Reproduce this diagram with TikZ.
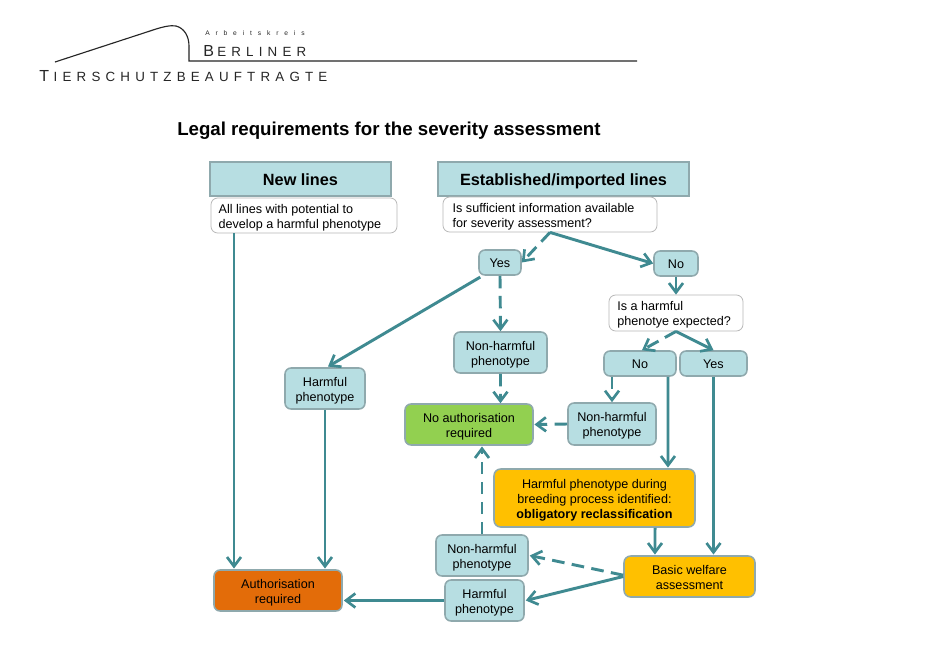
\documentclass[tikz,border=0pt]{standalone}
\usepackage{fontspec}
\setmainfont{Liberation Sans}
\newfontfamily\arbfont[LetterSpace=88]{Liberation Sans}
\newfontfamily\logofont[LetterSpace=39]{Liberation Sans}
\usetikzlibrary{arrows.meta}
\definecolor{linkc}{HTML}{3F8A91}
\definecolor{boxf}{HTML}{B7DEE2}
\definecolor{boxd}{HTML}{8FA9AD}
\definecolor{greenf}{HTML}{92D050}
\definecolor{amberf}{HTML}{FFC000}
\definecolor{darkor}{HTML}{E36C09}
\tikzset{
  base/.style={draw=boxd,line width=1.15pt,inner sep=0pt,align=center,font=\fontsize{9.45pt}{11.35pt}\selectfont},
  head/.style={base,fill=boxf,font=\fontsize{12.2pt}{14pt}\selectfont\bfseries,text height=11pt,text depth=2pt},
  blue/.style={base,fill=boxf,rounded corners=4.5pt},
  gbox/.style={base,fill=greenf,rounded corners=4.5pt},
  abox/.style={base,fill=amberf,rounded corners=5pt},
  obox/.style={base,fill=darkor,rounded corners=4.5pt},
  qbox/.style={base,draw=black!28,line width=.6pt,fill=white,rounded corners=5pt},
  link/.style={draw=linkc,line width=2.2pt,-{Straight Barb[length=7pt,width=10.5pt,line width=2pt]}},
  dlink/.style={link,dash pattern=on 9.5pt off 5.5pt},
  logoline/.style={line width=.85pt,draw=black!85},
  logotext/.style={anchor=base west,inner sep=0pt,text=black!85},
}
% name, style, x1, y1, x2, y2, text
\newcommand\pxnode[7]{%
  \pgfmathsetmacro\cxv{(#3+#5)/2}\pgfmathsetmacro\cyv{-(#4+#6)/2}%
  \pgfmathsetmacro\wv{(#5-#3)*0.75}\pgfmathsetmacro\hv{(#6-#4)*0.75}%
  \node[#2,minimum width=\wv pt,minimum height=\hv pt] (#1) at (\cxv,\cyv) {#7};}
\newcommand\ct[1]{\raisebox{-1.6pt}[\height][\depth]{\begin{tabular}{@{}c@{}}#1\end{tabular}}}
\newcommand\qtext[2]{\makebox[#1pt][l]{\raisebox{-1.6pt}[\height][\depth]{\begin{tabular}{@{}l@{}}#2\end{tabular}}}}
\begin{document}
\begin{tikzpicture}[x=0.75pt,y=0.75pt]
\useasboundingbox[fill=white] (0,0) rectangle (933,-647);
% logo
\draw[logoline] (55,-62) -- (150,-31) .. controls (163,-26.5) and (171,-25) .. (176,-26) .. controls (184,-28) and (189,-36) .. (189,-46) -- (189,-61) -- (637,-61);
\node[logotext,font=\arbfont\fontsize{5pt}{6pt}\selectfont] (arb) at (205,-35) {Arbeitskreis};
\node[logotext,font=\logofont\fontsize{10pt}{12pt}\selectfont] (ber) at (203,-56) {{\fontsize{12pt}{12pt}\selectfont B}\kern2.5ptERLINER};
\node[logotext,font=\logofont\fontsize{10pt}{12pt}\selectfont] (tie) at (39,-81) {{\fontsize{12pt}{12pt}\selectfont T}\kern3.5ptIERSCHUTZBEAUFTRAGTE};
\node[anchor=base west,inner sep=0pt,font=\fontsize{14pt}{16pt}\selectfont\bfseries] (title) at (177,-135) {Legal requirements for the severity assessment};
% nodes
\pxnode{newl}{head}{210}{162}{391}{196}{New lines}
\pxnode{est}{head}{438}{162}{689}{196}{Established/imported lines}
\pxnode{q1}{qbox}{211}{198}{397}{233}{\qtext{128}{All lines with potential to\\develop a harmful phenotype}}
\pxnode{q2}{qbox}{443}{197}{657}{232}{\qtext{146}{Is sufficient information available\\for severity assessment?}}
\pxnode{yesa}{blue}{479}{250}{521}{275}{\ct{Yes}}
\pxnode{noa}{blue}{654}{251}{698}{276}{\ct{No}}
\pxnode{q3}{qbox}{609}{295}{743}{331}{\qtext{88}{Is a harmful\\phenotye expected?}}
\pxnode{nh1}{blue}{454}{332}{547}{373}{\ct{Non-harmful\\phenotype}}
\pxnode{nob}{blue}{604}{351}{676}{376}{\ct{No}}
\pxnode{yesb}{blue}{680}{351}{747}{376}{\ct{Yes}}
\pxnode{h1}{blue}{285}{368}{365}{409}{\ct{Harmful\\phenotype}}
\pxnode{noauth}{gbox}{405}{404}{533}{445}{\ct{No authorisation\\required}}
\pxnode{nh2}{blue}{568}{403}{656}{445}{\ct{Non-harmful\\phenotype}}
\pxnode{reclass}{abox}{494}{469}{695}{527}{\ct{Harmful phenotype during\\breeding process identified:\\\textbf{obligatory reclassification}}}
\pxnode{basic}{abox}{624}{556}{755}{597}{\ct{Basic welfare\\assessment}}
\pxnode{nh3}{blue}{436}{535}{528}{576}{\ct{Non-harmful\\phenotype}}
\pxnode{h3}{blue}{445}{580}{524}{621}{\ct{Harmful\\phenotype}}
\pxnode{auth}{obox}{214}{570}{342}{611}{\ct{Authorisation\\required}}
% connectors
\draw[link] ([xshift=-52.5pt]q1.south) -- ([xshift=-33pt,yshift=.5pt]auth.north);
\draw[link] (h1.south) -- ([xshift=35.25pt,yshift=.5pt]auth.north);
\draw[link] ([xshift=1.5pt,yshift=-1pt]yesa.south west) -- ([xshift=2.25pt,yshift=.5pt]h1.north);
\draw[dlink] (yesa.south) -- (nh1.north);
\draw[dlink] (q2.south) -- (yesa.east);
\draw[link] (q2.south) -- (noa.west);
\draw[link] (noa.south) -- (q3.north);
\draw[dlink] (q3.south) -- ([xshift=1.5pt]nob.north);
\draw[link] (q3.south) -- (yesb.north);
\draw[dlink] (nh1.south) -- ([xshift=23.6pt]noauth.north);
\draw[dlink] ([xshift=-21pt]nob.south) -- (nh2.north);
\draw[link] ([xshift=21pt]nob.south) -- ([xshift=55.1pt,yshift=.5pt]reclass.north);
\draw[link] (yesb.south) -- ([xshift=18pt,yshift=.5pt]basic.north);
\draw[dlink] (nh2.west) -- ([xshift=.5pt]noauth.east);
\draw[dlink] (nh3.north) -- ([xshift=9.75pt,yshift=-.5pt]noauth.south);
\draw[link] ([xshift=45.4pt]reclass.south) -- ([xshift=-25.9pt,yshift=.5pt]basic.north);
\draw[dlink] ([yshift=1pt]basic.west) -- ([xshift=.75pt]nh3.east);
\draw[link] (basic.west) -- ([xshift=.75pt]h3.east);
\draw[link] (h3.west) -- ([xshift=.75pt,yshift=-7.5pt]auth.east);
\end{tikzpicture}
\end{document}
